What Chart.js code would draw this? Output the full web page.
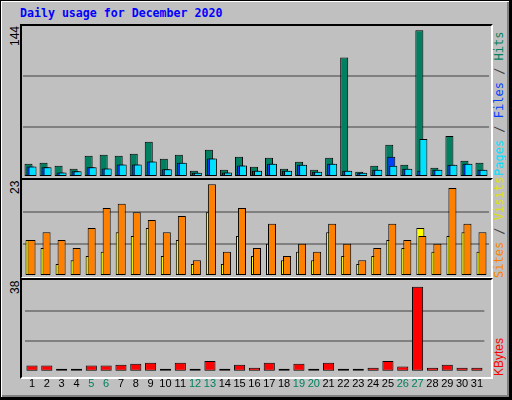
<!DOCTYPE html>
<html><head><meta charset="utf-8">
<script src="https://cdn.jsdelivr.net/npm/chart.js@4/dist/chart.umd.min.js"></script>
<style>
html,body{margin:0;padding:0;background:#c0c0c0;}
#frame{position:absolute;left:0;top:0;width:508px;height:396px;border-top:1px solid #000;border-left:1px solid #000;border-right:3px solid #000;border-bottom:3px solid #000;background:#c0c0c0;box-shadow:inset 1px 1px 0 #fff,inset -2px -2px 0 #808080;}
.panel{position:absolute;left:20px;width:469px;border-top:2px solid #000;border-left:2px solid #000;border-right:2px solid #fff;border-bottom:2px solid #fff;}
.cw{position:absolute;}
.vt{position:absolute;writing-mode:vertical-rl;transform:rotate(180deg);white-space:nowrap;font-family:"DejaVu Sans Mono",monospace;font-size:12px;}
#title{position:absolute;left:20px;top:6px;font:bold 11.6px "DejaVu Sans Mono",monospace;color:#0000ff;}
</style></head><body>
<div id="frame"></div>
<div id="title">Daily usage for December 2020</div>
<div class="panel" style="top:24px;height:152px"></div>
<div class="panel" style="top:178px;height:97px"></div>
<div class="panel" style="top:278px;height:97px"></div>
<div class="vt" style="left:8px;top:26px;height:24px;text-align:end;font-family:'Liberation Sans';font-size:12px">144</div>
<div class="vt" style="left:8px;top:181px;height:24px;text-align:end;font-family:'Liberation Sans';font-size:12px">23</div>
<div class="vt" style="left:8px;top:281px;height:24px;text-align:end;font-family:'Liberation Sans';font-size:12px">38</div>
<div class="vt" style="left:492px;top:26px;height:150px;text-align:start"><span style="color:#00e0ff">Pages</span><span style="color:#404040"> / </span><span style="color:#0040ff">Files</span><span style="color:#404040"> / </span><span style="color:#008060">Hits</span></div>
<div class="vt" style="left:492px;top:180px;height:98px;text-align:start"><span style="color:#ff8000">Sites</span><span style="color:#404040"> / </span><span style="color:#e0e000">Visits</span></div>
<div class="vt" style="left:492px;top:280px;height:96px;text-align:start;font-family:'Liberation Sans';font-size:12px"><span style="color:#ff0000">KBytes</span></div>
<div class="cw" style="left:23px;top:26px;width:466px;height:151px"><canvas id="c1"></canvas></div>
<div class="cw" style="left:23px;top:180px;width:466px;height:96px"><canvas id="c2"></canvas></div>
<div class="cw" style="left:23px;top:280px;width:466px;height:117px"><canvas id="c3"></canvas></div>
<script>
const days = Array.from({length:31},(_,i)=>String(i+1));
const weekendDays = ['5','6','12','13','19','20','26','27'];
const hits  = [12.6,13.6,10.7,7.9,20.2,21.2,20.2,22.1,33.5,17.4,21.2,6,25.9,7,19.3,9.8,18.3,7.9,14.5,7,18.3,114,5,10.7,30.7,11.7,140,8.8,39.2,15.5,13.6];
const files = [10.1,9.2,4.4,5.4,9.2,8.2,12,12,14.9,7.3,13.6,4.1,17.7,4.4,11,6,12.6,6,11.7,5,12.6,6,4.1,7,19.3,7.9,6,7,11.7,12.6,7];
const pages = [10.1,9.2,4.4,5.4,9.2,8.2,12,12,14.9,7.3,13.6,4.1,17.7,4.4,11,6,12.6,6,11.7,5,12.6,6,4.1,7,10.7,7.9,36.3,7,11.7,12.6,7];
const visits= [8.6,6.7,2.9,3.8,4.8,5.8,10.5,9.6,11.5,4.8,8.6,2.9,15.3,2.9,9.6,4.8,7.7,3.8,5.8,3.8,10.5,4.8,2.9,4.8,8.6,6.7,11.5,5.8,9.6,10.5,5.8];
const sites = [8.6,10.5,8.6,6.7,11.5,16.3,17.3,15.3,13.4,10.5,14.4,3.8,22,5.8,16.3,6.7,12.5,4.8,7.7,5.8,12.5,7.7,3.8,6.7,12.5,8.6,9.6,7.7,21.1,12.5,10.5];
const kbytes= [2.6,2.6,1.3,1.3,2.6,2.6,2.9,3.3,3.7,1.3,3.7,1.3,4.5,1.3,2.9,1.7,3.7,1.3,3.3,1.3,3.7,1.3,1.3,1.7,4.5,2.2,35.2,1.7,2.9,1.7,1.7];
const maxTop=144, maxMid=23, maxBot=38;

// draw datasets in index order so the right-hand bar of each group lies on top
const drawInOrder = {id:'drawInOrder', beforeDatasetsDraw(chart){
  for(let i=0;i<chart.data.datasets.length;i++){ chart.getDatasetMeta(i).controller.draw(); }
  return false;
}};

function yAxis(max){
  return {min:0,max:max,display:true,
    afterBuildTicks:s=>{s.ticks=[0,max/3,2*max/3,max].map(v=>({value:v}));},
    ticks:{display:false},border:{display:false},
    grid:{drawTicks:false,lineWidth:2,color:c=>(c.index===1||c.index===2)?'#808080':'rgba(0,0,0,0)'}};
}
function opts(max,showX,catPct,barPct){
  return {responsive:true,maintainAspectRatio:false,animation:false,
    layout:{padding:0},
    plugins:{legend:{display:false},tooltip:{enabled:false}},
    datasets:{bar:{categoryPercentage:catPct,barPercentage:barPct,borderColor:'#000',borderWidth:1,borderSkipped:false}},
    scales:{
      x:{display:showX,offset:true,border:{display:false},grid:{display:false,drawTicks:false},
        ticks:{padding:6,maxRotation:0,autoSkip:false,font:{family:'Liberation Sans',size:11},
          color:c=>weekendDays.includes(days[c.index])?'#008060':'#000'}},
      y:yAxis(max)}};
}
new Chart(document.getElementById('c1'),{type:'bar',data:{labels:days,datasets:[
  {data:hits,backgroundColor:'#008060'},
  {data:files,backgroundColor:'#0040ff'},
  {data:pages,backgroundColor:'#00e0ff'}]},options:opts(maxTop,false,0.4,4),plugins:[drawInOrder]});
new Chart(document.getElementById('c2'),{type:'bar',data:{labels:days,datasets:[
  {data:visits,backgroundColor:'#ffff00'},
  {data:sites,backgroundColor:'#ff8000'}]},options:opts(maxMid,false,0.267,4),plugins:[drawInOrder]});
new Chart(document.getElementById('c3'),{type:'bar',data:{labels:days,datasets:[
  {data:kbytes,backgroundColor:'#ff0000'}]},options:opts(maxBot,true,0.75,1)});
</script>
</body></html>
